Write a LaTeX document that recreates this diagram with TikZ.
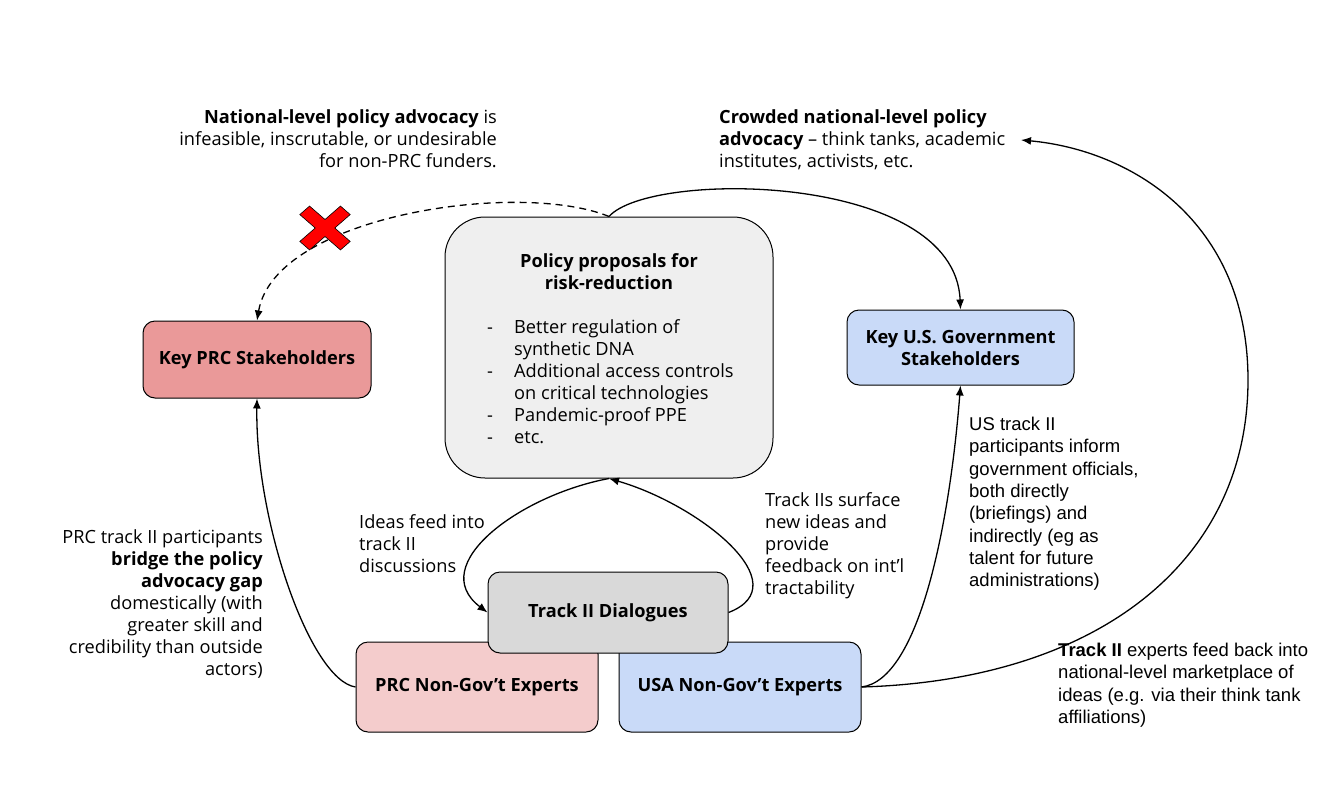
\documentclass[tikz,border=0pt]{standalone}
\usepackage{fontspec}
\setmainfont{Open Sans}
\newfontfamily\arialf{Liberation Sans}
\usetikzlibrary{arrows.meta}
\definecolor{ppfill}{HTML}{EFEFEF}
\definecolor{prcdark}{HTML}{EA9999}
\definecolor{prclight}{HTML}{F4CCCC}
\definecolor{usblue}{HTML}{C9DAF8}
\definecolor{trackgray}{HTML}{D9D9D9}
\definecolor{xred}{HTML}{FF0000}
\begin{document}
\begin{tikzpicture}[x=1pt,y=-1pt,
  box/.style={draw=black, line width=1pt, rounded corners=12pt, align=center,
    font=\fontsize{18.2}{22}\selectfont\bfseries, inner sep=0pt},
  txt/.style={inner sep=0pt, font=\fontsize{18.2}{22}\selectfont},
  atxt/.style={inner sep=0pt, font=\arialf\fontsize{18.5}{22.3}\selectfont, align=left},
  conn/.style={line width=1.3pt, -{Latex[length=10pt,width=8pt]}},
  dconn/.style={conn, dash pattern=on 7pt off 5pt}
]
\useasboundingbox (0,0) rectangle (1338,798);
\fill[white] (0,0) rectangle (1338,798);

% boxes
\node[box, fill=ppfill, rounded corners=40pt, minimum width=328, minimum height=261] (pp) at (609,347.5) {};
\node[txt, font=\fontsize{18.2}{22}\selectfont\bfseries, align=center, anchor=north] (pptitle) at (609,253) {Policy proposals for\\risk-reduction};
\node[txt, align=left, anchor=north west] (pplist) at (487,319) {%
\makebox[27pt][l]{-}Better regulation of\\
\hspace*{27pt}synthetic DNA\\
\makebox[27pt][l]{-}Additional access controls\\
\hspace*{27pt}on critical technologies\\
\makebox[27pt][l]{-}Pandemic-proof PPE\\
\makebox[27pt][l]{-}etc.};

\node[box, fill=prcdark, minimum width=228, minimum height=77] (keyprc) at (257,359.5) {Key PRC Stakeholders};
\node[box, fill=usblue, minimum width=227, minimum height=75] (keyus) at (960.5,347.5) {Key U.S. Government\\Stakeholders};
\node[box, fill=prclight, minimum width=242, minimum height=90] (prcexp) at (477,687) {PRC Non-Gov’t Experts};
\node[box, fill=usblue, minimum width=242, minimum height=90] (usaexp) at (740,687) {USA Non-Gov’t Experts};
\node[box, fill=trackgray, minimum width=240, minimum height=81] (track) at (608,612.5) {Track II Dialogues};

% texts
\node[txt, align=right, anchor=north east] (tnat) at (497,109) {\textbf{National-level policy advocacy} is\\infeasible, inscrutable, or undesirable\\for non-PRC funders.};
\node[txt, align=left, anchor=north west] (tcrowd) at (719,109) {\textbf{Crowded national-level policy}\\\textbf{advocacy} – think tanks, academic\\institutes, activists, etc.};
\node[txt, align=left, anchor=north west] (tideas) at (359,514) {Ideas feed into\\track II\\discussions};
\node[txt, align=left, anchor=north west] (tsurf) at (765,492) {Track IIs surface\\new ideas and\\provide\\feedback on int’l\\tractability};
\node[txt, align=right, anchor=north east] (tbridge) at (263,529) {PRC track II participants\\\textbf{bridge the policy}\\\textbf{advocacy gap}\\domestically (with\\greater skill and\\credibility than outside\\actors)};
\node[atxt, anchor=north west] (tinform) at (969,417) {US track II\\participants inform\\government officials,\\both directly\\(briefings) and\\indirectly (eg as\\talent for future\\administrations)};
\node[atxt, anchor=north west] (tfeed) at (1058,643) {\textbf{Track II} experts feed back into\\national-level marketplace of\\ideas (e.g. via their think tank\\affiliations)};

\coordinate (crowdend) at (1021,140);

% connectors
\draw[dconn] (pp.north) .. controls (520,180) and (275,215) .. (keyprc.north);
\draw[conn] (pp.north) .. controls (650,170) and (955,172) .. (keyus.north);
\draw[conn] (pp.south) .. controls (520,495) and (425,565) .. (track.west);
\draw[conn] (track.east) .. controls (800,585) and (700,505) .. (pp.south);
\draw[conn] (prcexp.west) .. controls (310,680) and (255,520) .. (keyprc.south);
\draw[conn] (usaexp.east) .. controls (920,680) and (950,520) .. (keyus.south);
\draw[conn] (usaexp.east) .. controls (1100,680) and (1248,560) .. (1248,380)
   .. controls (1248,220) and (1130,150) .. (crowdend);

% red cross
\begin{scope}[shift={(325,228)}, xscale=1.15, rotate=45]
\draw[fill=xred, draw=black, line width=0.6pt] (6,6) -- (25,6) -- (25,-6) -- (6,-6) -- (6,-25) -- (-6,-25) -- (-6,-6) -- (-25,-6) -- (-25,6) -- (-6,6) -- (-6,25) -- (6,25) -- cycle;
\end{scope}
\end{tikzpicture}
\end{document}
